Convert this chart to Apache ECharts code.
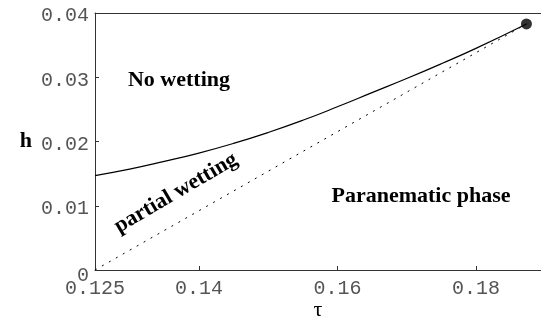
<!DOCTYPE html>
<html>
<head>
<meta charset="utf-8">
<script src="https://cdn.jsdelivr.net/npm/echarts@6/dist/echarts.min.js"></script>
<style>
html, body { margin: 0; padding: 0; background: #fff; }
#chart { width: 541px; height: 326px; }
</style>
</head>
<body>
<div id="chart"></div>
<script>
// 刻度
var tauTicks = [0.125, 0.14, 0.16, 0.18];
var hTicks = [0, 0.01, 0.02, 0.03, 0.04];

// 实线：No wetting / partial wetting 的边界
var wetTau = [0.125, 0.130, 0.135, 0.140, 0.145, 0.150, 0.155, 0.160, 0.165, 0.170, 0.175, 0.180, 0.1873];
var wetH = [0.0147, 0.0157, 0.0169, 0.0182, 0.0197, 0.0214, 0.0233, 0.0254, 0.0276, 0.0298, 0.0321, 0.0345, 0.0383];

// 虚线：partial wetting / paranematic 的边界
var dotTau = [0.125, 0.1873];
var dotH = [0, 0.0383];

// 终点
var endTau = [0.1873];
var endH = [0.0383];

function zip(xs, ys) {
    return xs.map(function (x, i) { return [x, ys[i]]; });
}

var myChart = echarts.init(document.getElementById('chart'));

var serif = "'Liberation Serif', 'DejaVu Serif', serif";
var mono = "'Liberation Mono', 'DejaVu Sans Mono', monospace";

var option = {
    animation: false,
    grid: { left: 95, right: 0, top: 13, bottom: 50 },
    xAxis: [{
        type: 'value',
        min: 0.125,
        max: 0.1894,
        name: 'τ',
        nameLocation: 'middle',
        nameGap: 29,
        nameMoveOverlap: false,
        nameTextStyle: { fontFamily: serif, fontSize: 22, color: '#000' },
        axisLine: { onZero: false, lineStyle: { color: '#333', width: 1 } },
        axisTick: { inside: true, length: 4, customValues: tauTicks, lineStyle: { color: '#333' } },
        axisLabel: { customValues: tauTicks, margin: 9, fontFamily: mono, fontSize: 20, color: '#555' },
        splitLine: { show: false }
    }, {
        type: 'value',
        position: 'top',
        min: 0.125,
        max: 0.1894,
        axisLine: { show: true, onZero: false, lineStyle: { color: '#333', width: 1 } },
        axisTick: { show: false },
        axisLabel: { show: false },
        splitLine: { show: false }
    }],
    yAxis: {
        type: 'value',
        min: 0,
        max: 0.04,
        interval: 0.01,
        name: 'h',
        nameLocation: 'middle',
        nameRotate: 0,
        nameGap: 63,
        nameMoveOverlap: false,
        nameTextStyle: { fontFamily: serif, fontSize: 22, fontWeight: 'bold', color: '#000' },
        axisLine: { show: true, onZero: false, lineStyle: { color: '#333', width: 1 } },
        axisTick: { show: true, inside: true, length: 4, customValues: hTicks, lineStyle: { color: '#333' } },
        axisLabel: {
            customValues: hTicks, margin: 6, fontFamily: mono, fontSize: 20, color: '#555',
            padding: [6, 0, 0, 0],
            verticalAlignMinLabel: 'middle', verticalAlignMaxLabel: 'middle',
            formatter: function (v) { return v === 0 ? '{z|0}' : String(v); },
            rich: { z: { fontFamily: mono, fontSize: 20, color: '#555', padding: [5, 0, 0, 0] } }
        },
        splitLine: { show: false }
    },
    series: [{
        type: 'line',
        data: zip(wetTau, wetH),
        smooth: true,
        showSymbol: false,
        lineStyle: { color: '#000', width: 1.2 }
    }, {
        type: 'line',
        data: zip(dotTau, dotH),
        showSymbol: false,
        lineStyle: { color: '#000', width: 1, type: [2, 6] }
    }, {
        type: 'scatter',
        data: zip(endTau, endH),
        symbolSize: 11,
        itemStyle: { color: '#000' }
    }],
    graphic: [{
        type: 'text', x: 179, y: 80,
        style: { text: 'No wetting', font: 'bold 22px ' + serif, fill: '#000', align: 'center', verticalAlign: 'middle', textAlign: 'center', textVerticalAlign: 'middle' }
    }, {
        type: 'text', x: 176, y: 193, rotation: 0.53,
        style: { text: 'partial wetting', font: 'bold 22px ' + serif, fill: '#000', align: 'center', verticalAlign: 'middle', textAlign: 'center', textVerticalAlign: 'middle' }
    }, {
        type: 'text', x: 421, y: 196,
        style: { text: 'Paranematic phase', font: 'bold 22px ' + serif, fill: '#000', align: 'center', verticalAlign: 'middle', textAlign: 'center', textVerticalAlign: 'middle' }
    }]
};

myChart.setOption(option);
</script>
</body>
</html>
